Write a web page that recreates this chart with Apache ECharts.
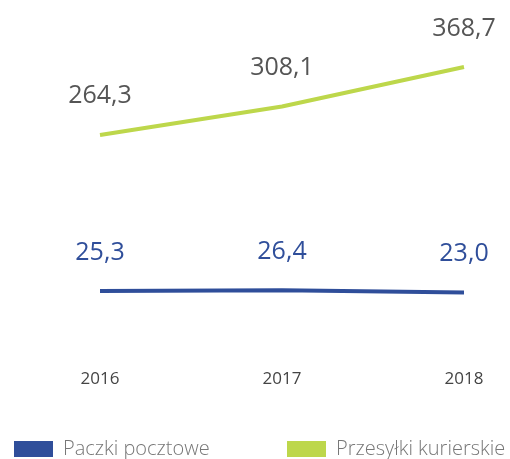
<!DOCTYPE html>
<html>
<head>
<meta charset="utf-8">
<script src="https://cdn.jsdelivr.net/npm/echarts@6/dist/echarts.min.js"></script>
<style>
  html, body { margin: 0; padding: 0; background: #fff; }
  #chart { width: 510px; height: 459px; }
</style>
</head>
<body>
<div id="chart"></div>
<script>
// dane z wykresu
const years = ['2016', '2017', '2018'];
const paczki = [25.3, 26.4, 23.0];
const kurierskie = [264.3, 308.1, 368.7];

const myChart = echarts.init(document.getElementById('chart'));

const fmt = p => p.value.toFixed(1).replace('.', ',');
const FONT = 'Open Sans';

// dwa obszary z tą samą skalą (przerwana oś)
const option = {
  animation: false,
  grid: [
    { left: 100, right: 46, top: 46.7, height: 97.5 },
    { left: 100, right: 46, top: 281.4, height: 26 }
  ],
  xAxis: [
    { gridIndex: 0, type: 'category', data: years, boundaryGap: false, show: false },
    {
      gridIndex: 1, type: 'category', data: years, boundaryGap: false,
      axisLine: { show: false }, axisTick: { show: false },
      axisLabel: { margin: 63, fontSize: 17, color: '#444', fontFamily: FONT }
    }
  ],
  yAxis: [
    { gridIndex: 0, type: 'value', min: 250, max: 400, show: false },
    { gridIndex: 1, type: 'value', min: 0, max: 40, show: false }
  ],
  legend: [
    {
      data: ['Paczki pocztowe'], left: 9, top: 434,
      itemWidth: 39, itemHeight: 16, icon: 'rect',
      textStyle: { fontSize: 20, color: '#777', fontFamily: FONT, fontWeight: 300, padding: [0, 0, 0, 5] }
    },
    {
      data: ['Przesyłki kurierskie'], left: 282, top: 434,
      itemWidth: 39, itemHeight: 16, icon: 'rect',
      textStyle: { fontSize: 20, color: '#777', fontFamily: FONT, fontWeight: 300, padding: [0, 0, 0, 5] }
    }
  ],
  series: [
    {
      name: 'Przesyłki kurierskie', type: 'line', data: kurierskie,
      xAxisIndex: 0, yAxisIndex: 0,
      showSymbol: true, symbol: 'circle', symbolSize: 0.1,
      itemStyle: { color: '#bdd74b' },
      lineStyle: { width: 4, color: '#bdd74b' },
      label: { show: true, position: 'top', distance: 26, formatter: fmt,
        fontSize: 25, color: '#555', fontFamily: FONT }
    },
    {
      name: 'Paczki pocztowe', type: 'line', data: paczki,
      xAxisIndex: 1, yAxisIndex: 1,
      showSymbol: true, symbol: 'circle', symbolSize: 0.1,
      itemStyle: { color: '#2f4e9a' },
      lineStyle: { width: 4, color: '#2f4e9a' },
      label: { show: true, position: 'top', distance: 26, formatter: fmt,
        fontSize: 25, color: '#2f4e9a', fontFamily: FONT }
    }
  ]
};

myChart.setOption(option);
</script>
</body>
</html>
